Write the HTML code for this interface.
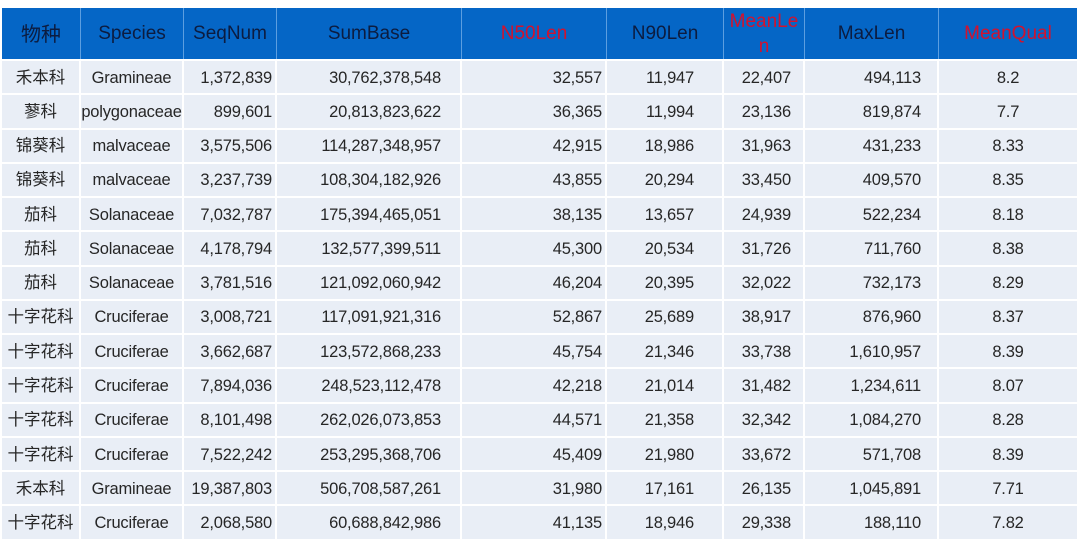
<!DOCTYPE html>
<html><head><meta charset="utf-8">
<style>
html,body{margin:0;padding:0;background:#fff;width:1080px;height:544px;overflow:hidden}
.g{position:absolute;left:2px;top:8px;display:grid;
grid-template-columns:79px 103px 93px 185px 145px 117px 81px 134px 138px;
grid-template-rows:51px repeat(14,34.28px);
font-family:"Liberation Sans","Noto Sans CJK SC",sans-serif;}
.g>div{box-sizing:border-box;display:flex;align-items:center;justify-content:center;white-space:nowrap;}
.h{background:#0566c6;color:#0c1c40;font-size:19px;border-right:1px solid #5c9ee0;line-height:25px;text-align:center}
.h.r{color:#d3122e}
.h.last{border-right:none}
.c{background:#e9eef6;color:#262626;font-size:16.5px;letter-spacing:-0.2px;line-height:20px;border-right:2px solid #fff;border-top:2px solid #fff;padding-top:1px}
.c.last{border-right:none}
.cn{font-size:16.5px;letter-spacing:0}
.hcn{font-size:20px;padding-top:3px}
.c.r3{justify-content:flex-end;padding-right:3px}
.c.r19{justify-content:flex-end;padding-right:19px}
.c.r28{justify-content:flex-end;padding-right:28px}
.c.r12{justify-content:flex-end;padding-right:12px}
.c.r16{justify-content:flex-end;padding-right:16px}
</style></head><body>
<div class="g">
<div class="h hcn">物种</div><div class="h">Species</div><div class="h">SeqNum</div><div class="h">SumBase</div><div class="h r">N50Len</div><div class="h">N90Len</div><div class="h r">MeanLe<br>n</div><div class="h">MaxLen</div><div class="h r last">MeanQual</div>

<div class="c cn">禾本科</div><div class="c">Gramineae</div><div class="c r3">1,372,839</div><div class="c r19">30,762,378,548</div><div class="c r3">32,557</div><div class="c r28">11,947</div><div class="c r12">22,407</div><div class="c r16">494,113</div><div class="c last">8.2</div>

<div class="c cn">蓼科</div><div class="c">polygonaceae</div><div class="c r3">899,601</div><div class="c r19">20,813,823,622</div><div class="c r3">36,365</div><div class="c r28">11,994</div><div class="c r12">23,136</div><div class="c r16">819,874</div><div class="c last">7.7</div>

<div class="c cn">锦葵科</div><div class="c">malvaceae</div><div class="c r3">3,575,506</div><div class="c r19">114,287,348,957</div><div class="c r3">42,915</div><div class="c r28">18,986</div><div class="c r12">31,963</div><div class="c r16">431,233</div><div class="c last">8.33</div>

<div class="c cn">锦葵科</div><div class="c">malvaceae</div><div class="c r3">3,237,739</div><div class="c r19">108,304,182,926</div><div class="c r3">43,855</div><div class="c r28">20,294</div><div class="c r12">33,450</div><div class="c r16">409,570</div><div class="c last">8.35</div>

<div class="c cn">茄科</div><div class="c">Solanaceae</div><div class="c r3">7,032,787</div><div class="c r19">175,394,465,051</div><div class="c r3">38,135</div><div class="c r28">13,657</div><div class="c r12">24,939</div><div class="c r16">522,234</div><div class="c last">8.18</div>

<div class="c cn">茄科</div><div class="c">Solanaceae</div><div class="c r3">4,178,794</div><div class="c r19">132,577,399,511</div><div class="c r3">45,300</div><div class="c r28">20,534</div><div class="c r12">31,726</div><div class="c r16">711,760</div><div class="c last">8.38</div>

<div class="c cn">茄科</div><div class="c">Solanaceae</div><div class="c r3">3,781,516</div><div class="c r19">121,092,060,942</div><div class="c r3">46,204</div><div class="c r28">20,395</div><div class="c r12">32,022</div><div class="c r16">732,173</div><div class="c last">8.29</div>

<div class="c cn">十字花科</div><div class="c">Cruciferae</div><div class="c r3">3,008,721</div><div class="c r19">117,091,921,316</div><div class="c r3">52,867</div><div class="c r28">25,689</div><div class="c r12">38,917</div><div class="c r16">876,960</div><div class="c last">8.37</div>

<div class="c cn">十字花科</div><div class="c">Cruciferae</div><div class="c r3">3,662,687</div><div class="c r19">123,572,868,233</div><div class="c r3">45,754</div><div class="c r28">21,346</div><div class="c r12">33,738</div><div class="c r16">1,610,957</div><div class="c last">8.39</div>

<div class="c cn">十字花科</div><div class="c">Cruciferae</div><div class="c r3">7,894,036</div><div class="c r19">248,523,112,478</div><div class="c r3">42,218</div><div class="c r28">21,014</div><div class="c r12">31,482</div><div class="c r16">1,234,611</div><div class="c last">8.07</div>

<div class="c cn">十字花科</div><div class="c">Cruciferae</div><div class="c r3">8,101,498</div><div class="c r19">262,026,073,853</div><div class="c r3">44,571</div><div class="c r28">21,358</div><div class="c r12">32,342</div><div class="c r16">1,084,270</div><div class="c last">8.28</div>

<div class="c cn">十字花科</div><div class="c">Cruciferae</div><div class="c r3">7,522,242</div><div class="c r19">253,295,368,706</div><div class="c r3">45,409</div><div class="c r28">21,980</div><div class="c r12">33,672</div><div class="c r16">571,708</div><div class="c last">8.39</div>

<div class="c cn">禾本科</div><div class="c">Gramineae</div><div class="c r3">19,387,803</div><div class="c r19">506,708,587,261</div><div class="c r3">31,980</div><div class="c r28">17,161</div><div class="c r12">26,135</div><div class="c r16">1,045,891</div><div class="c last">7.71</div>

<div class="c cn">十字花科</div><div class="c">Cruciferae</div><div class="c r3">2,068,580</div><div class="c r19">60,688,842,986</div><div class="c r3">41,135</div><div class="c r28">18,946</div><div class="c r12">29,338</div><div class="c r16">188,110</div><div class="c last">7.82</div>
</div>
</body></html>
